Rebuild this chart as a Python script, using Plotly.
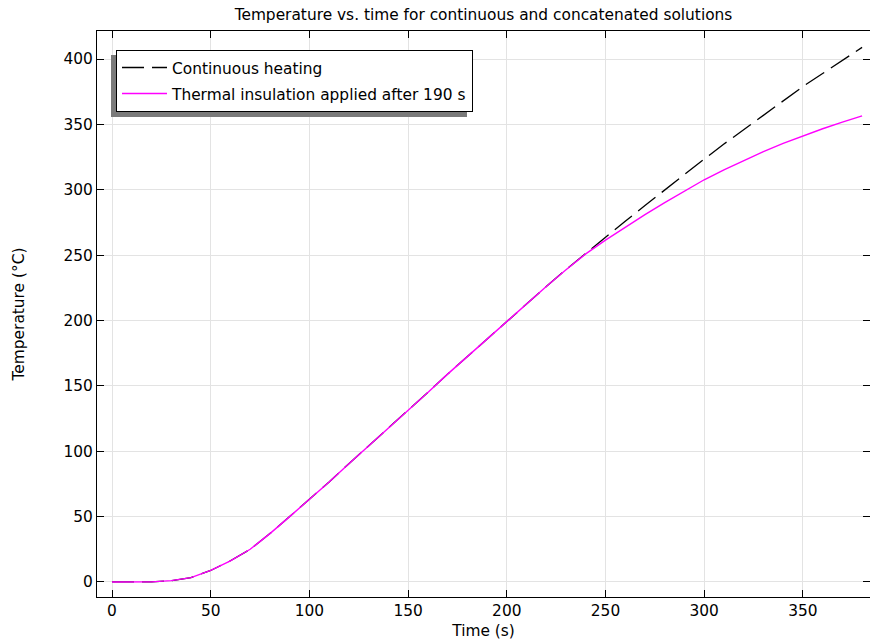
import plotly.graph_objects as go

time_s = [0, 10, 20, 30, 40, 50, 60, 70, 80, 90, 100, 110, 120, 130, 140, 150,
          160, 170, 180, 190, 200, 210, 220, 230, 240, 250, 260, 270, 280, 290,
          300, 310, 320, 330, 340, 350, 360, 370, 380]

temp_continuous = [0, 0, 0.1, 1.0, 3.3, 8.8, 16.2, 25, 37, 50, 63, 76.5, 90.5, 104,
                   118, 131.5, 145, 159, 172.5, 186, 199.5, 213, 226, 239, 251.5,
                   264, 276, 288, 300, 312, 323.5, 335, 346, 357, 368, 379, 389,
                   399, 409]

temp_insulated = [0, 0, 0.1, 1.0, 3.3, 8.8, 16.2, 25, 37, 50, 63, 76.5, 90.5, 104,
                  118, 131.5, 145, 159, 172.5, 186, 199.5, 213, 226, 238.8, 251,
                  261.5, 271.3, 281, 290.2, 299, 307.7, 315.3, 322.5, 329.2, 335.5,
                  341.3, 346.7, 351.8, 356.6]

x_ticks = [0, 50, 100, 150, 200, 250, 300, 350]
y_ticks = [0, 50, 100, 150, 200, 250, 300, 350, 400]

FONT = "DejaVu Sans"
FS = 15.4

fig = go.Figure()
fig.add_trace(go.Scatter(
    x=time_s, y=temp_continuous, mode="lines", name="Continuous heating",
    line=dict(color="black", width=1.3, dash="22px,8px"), legendgroup="a"))
fig.add_trace(go.Scatter(
    x=time_s, y=temp_insulated, mode="lines",
    name="Thermal insulation applied after 190 s",
    line=dict(color="#ff00ff", width=1.4), legendgroup="b"))

L, R, T, B = 97, 0, 31, 43
W, H = 870, 640
pw, ph = W - L - R, H - T - B

def px2paper(x, y):
    return (x - L) / pw, (H - B - y) / ph

# legend shadow
x0, y0 = px2paper(111, 55)
x1, y1 = px2paper(467, 117)
fig.add_shape(type="rect", xref="paper", yref="paper", x0=x0, x1=x1, y0=y1, y1=y0,
              fillcolor="#7a7a7a", line=dict(width=0), layer="above")

lx, ly = px2paper(116, 50)

axis_common = dict(
    showline=True, linecolor="black", linewidth=1, mirror="ticks",
    ticks="inside", ticklen=7, tickcolor="black", tickwidth=1.2,
    showgrid=True, gridcolor="#e3e3e3", gridwidth=1, zeroline=False,
    tickfont=dict(family=FONT, size=FS, color="black"),
)

fig.update_layout(
    width=W, height=H,
    margin=dict(l=L, r=R, t=T, b=B),
    paper_bgcolor="white", plot_bgcolor="white",
    font=dict(family=FONT, size=FS, color="black"),
    title=dict(text="Temperature vs. time for continuous and concatenated solutions",
               x=(L + pw / 2) / W, xanchor="center", y=1 - 15 / H, yanchor="middle",
               font=dict(family=FONT, size=FS, color="black")),
    xaxis=dict(axis_common, range=[-7.6, 384], tickvals=x_ticks,
               title=dict(text="Time (s)", font=dict(family=FONT, size=FS), standoff=8)),
    yaxis=dict(axis_common, range=[-11.5, 421.5], tickvals=y_ticks,
               title=dict(text="Temperature (°C)", font=dict(family=FONT, size=FS), standoff=35)),
    legend=dict(x=lx, y=ly, xanchor="left", yanchor="top",
                bgcolor="white", bordercolor="black", borderwidth=1,
                font=dict(family=FONT, size=FS, color="black"),
                tracegroupgap=3, traceorder="grouped", itemwidth=45),
    showlegend=True,
)

fig.write_html("out.html", config={"displayModeBar": False},
               post_script="document.body.style.margin='0';document.body.style.overflow='hidden';")
